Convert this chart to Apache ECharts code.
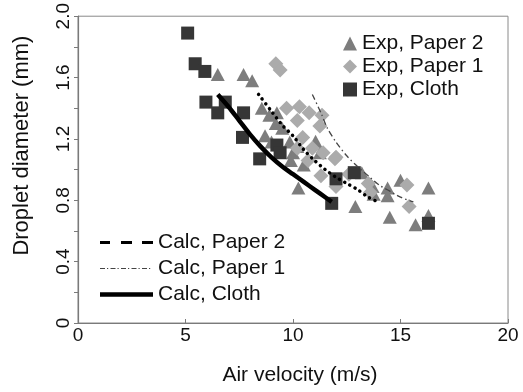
<!DOCTYPE html>
<html><head><meta charset="utf-8">
<script src="https://cdn.jsdelivr.net/npm/echarts@6/dist/echarts.min.js"></script>
<style>html,body{margin:0;padding:0;background:#fff}#c{width:523px;height:392px}</style>
</head><body><div id="c"></div>
<script>
// ---- data ----
const expPaper2 = [[6.5,1.62],[7.7,1.62],[8.1,1.58],[8.55,1.40],[8.9,1.355],[9.25,1.37],[9.2,1.30],[8.7,1.22],[9.0,1.18],[9.5,1.27],[9.85,1.18],[10.0,1.11],[9.9,1.06],[10.2,1.15],[11.05,1.185],[11.25,1.11],[10.5,1.03],[10.25,0.88],[13.2,0.98],[12.9,0.76],[13.7,0.89],[13.75,0.84],[14.4,0.88],[14.4,0.83],[14.5,0.69],[15.0,0.93],[16.3,0.88],[15.7,0.64],[16.3,0.70]];
const expPaper1 = [[9.2,1.69],[9.4,1.65],[9.7,1.40],[10.3,1.41],[10.75,1.37],[11.35,1.355],[10.2,1.32],[11.25,1.285],[10.45,1.21],[10.2,1.14],[10.9,1.14],[10.7,1.06],[11.4,1.11],[12.0,1.08],[11.3,0.96],[11.95,1.07],[12.0,0.89],[12.6,0.97],[13.5,0.91],[13.6,0.85],[15.3,0.90],[15.4,0.76]];
const expCloth = [[5.1,1.89],[5.45,1.69],[5.9,1.64],[5.95,1.44],[6.5,1.37],[6.85,1.44],[7.7,1.37],[7.65,1.21],[8.45,1.07],[9.25,1.16],[9.4,1.11],[12.0,0.94],[12.85,0.98],[11.8,0.78],[16.3,0.65]];
const calcPaper2 = [[8.4,1.49],[9.0,1.38],[9.5,1.29],[10.0,1.22],[10.5,1.13],[11.0,1.06],[11.5,1.00],[12.0,0.95],[12.5,0.91],[13.0,0.87],[13.5,0.82],[13.95,0.79]];
const calcPaper1 = [[10.9,1.49],[11.3,1.37],[11.6,1.27],[12.0,1.18],[12.5,1.09],[13.0,1.02],[13.5,0.96],[14.0,0.90],[14.5,0.86],[15.0,0.82],[15.6,0.79]];
const calcCloth = [[6.5,1.49],[7.0,1.41],[7.5,1.32],[8.0,1.23],[8.5,1.15],[9.0,1.08],[9.5,1.02],[10.0,0.97],[10.5,0.92],[11.0,0.87],[11.5,0.82],[11.8,0.79]];
const yTickLabels = ['0','0.4','0.8','1.2','1.6','2.0'];
const xTickLabels = ['0','5','10','15','20'];
const names = ['Exp, Paper 2','Exp, Paper 1','Exp, Cloth','Calc, Paper 2','Calc, Paper 1','Calc, Cloth'];

const FONT = 'Liberation Sans, Arial, sans-serif';
const corner = 'M0,0h0.01v0.01h-0.01z M52.99,13.99h0.01v0.01h-0.01z ';
const iconDashed = 'path://' + corner + 'M0,5.5h10v3h-10z M21,5.5h11v3h-11z M42,5.5h11v3h-11z';
const iconDashDot = 'path://' + corner + 'M0,6.4h5v1.2h-5z M7,6.4h1.2v1.2h-1.2z M10.5,6.4h5v1.2h-5z M17.5,6.4h1.2v1.2h-1.2z M21,6.4h5v1.2h-5z M28,6.4h1.2v1.2h-1.2z M31.5,6.4h5v1.2h-5z M38.5,6.4h1.2v1.2h-1.2z M42,6.4h5v1.2h-5z M49,6.4h1.2v1.2h-1.2z';
const iconSolid = 'path://' + corner + 'M0,4.8h53v4.4h-53z';

const chart = echarts.init(document.getElementById('c'), null, {renderer:'canvas'});
chart.setOption({
  animation: false,
  backgroundColor: '#fff',
  textStyle: {fontFamily: FONT},
  grid: {left: 78, right: 15, top: 16, bottom: 69, show: true, borderColor: '#8a8a8a', borderWidth: 1},
  xAxis: {
    type: 'value', min: 0, max: 20, interval: 5,
    name: 'Air velocity (m/s)', nameLocation: 'middle', nameGap: 42,
    nameTextStyle: {fontSize: 21, color: '#111', fontFamily: FONT, padding: [0,0,0,14]},
    axisLine: {show: true, lineStyle: {color: '#7a7a7a', width: 1.2}},
    axisTick: {show: true, inside: true, length: 4, lineStyle: {color: '#7a7a7a'}},
    axisLabel: {fontSize: 19, color: '#111', margin: 3, fontFamily: FONT,
      formatter: v => xTickLabels[Math.round(v/5)]},
    splitLine: {show: false}
  },
  yAxis: {
    type: 'value', min: 0, max: 2.0, interval: 0.2,
    name: 'Droplet diameter (mm)', nameLocation: 'middle', nameGap: 45, nameRotate: 90,
    nameTextStyle: {fontSize: 22, color: '#111', fontFamily: FONT, padding: [0,0,0,48]},
    axisLine: {show: true, lineStyle: {color: '#7a7a7a', width: 1.2}},
    axisTick: {show: true, inside: false, length: 4, lineStyle: {color: '#7a7a7a'}},
    axisLabel: {fontSize: 19, color: '#111', margin: 5, rotate: 90, fontFamily: FONT,
      formatter: v => { const i = Math.round(v/0.2); return i % 2 === 0 ? yTickLabels[i/2] : ''; }},
    splitLine: {show: false}
  },
  legend: [
    {
      left: 343, top: 33, orient: 'vertical', padding: 0, itemGap: 2,
      itemWidth: 14, itemHeight: 14,
      textStyle: {fontSize: 21, color: '#111', fontFamily: FONT, lineHeight: 20},
      data: [{name: names[0], icon: 'triangle'}, {name: names[1], icon: 'diamond'}, {name: names[2], icon: 'rect'}]
    },
    {
      left: 100, top: 232, orient: 'vertical', padding: 0, itemGap: 5,
      itemWidth: 53, itemHeight: 14,
      itemStyle: {borderWidth: 0},
      textStyle: {fontSize: 21, color: '#111', fontFamily: FONT, lineHeight: 20},
      data: [{name: names[3], icon: iconDashed}, {name: names[4], icon: iconDashDot}, {name: names[5], icon: iconSolid}]
    }
  ],
  series: [
    {name: names[0], type: 'scatter', data: expPaper2, symbol: 'triangle', symbolSize: [14, 13],
      itemStyle: {color: '#7d7d7d', opacity: 1}, z: 2},
    {name: names[1], type: 'scatter', data: expPaper1, symbol: 'diamond', symbolSize: 15,
      itemStyle: {color: '#ababab', opacity: 1}, z: 2},
    {name: names[2], type: 'scatter', data: expCloth, symbol: 'rect', symbolSize: 13,
      itemStyle: {color: '#363636', opacity: 1}, z: 2},
    {name: names[3], type: 'line', data: calcPaper2, symbol: 'none', smooth: 0.3, z: 5,
      itemStyle: {color: '#000', borderWidth: 0},
      lineStyle: {color: '#000', width: 3.5, type: [0.1, 5.8], cap: 'round'}},
    {name: names[4], type: 'line', data: calcPaper1, symbol: 'none', smooth: 0.3, z: 5,
      itemStyle: {color: '#444', borderWidth: 0},
      lineStyle: {color: '#444', width: 1.3, type: [6, 3, 1.5, 3]}},
    {name: names[5], type: 'line', data: calcCloth, symbol: 'none', smooth: 0.3, z: 5,
      itemStyle: {color: '#000', borderWidth: 0},
      lineStyle: {color: '#000', width: 4.5}}
  ]
});
</script>
</body></html>
